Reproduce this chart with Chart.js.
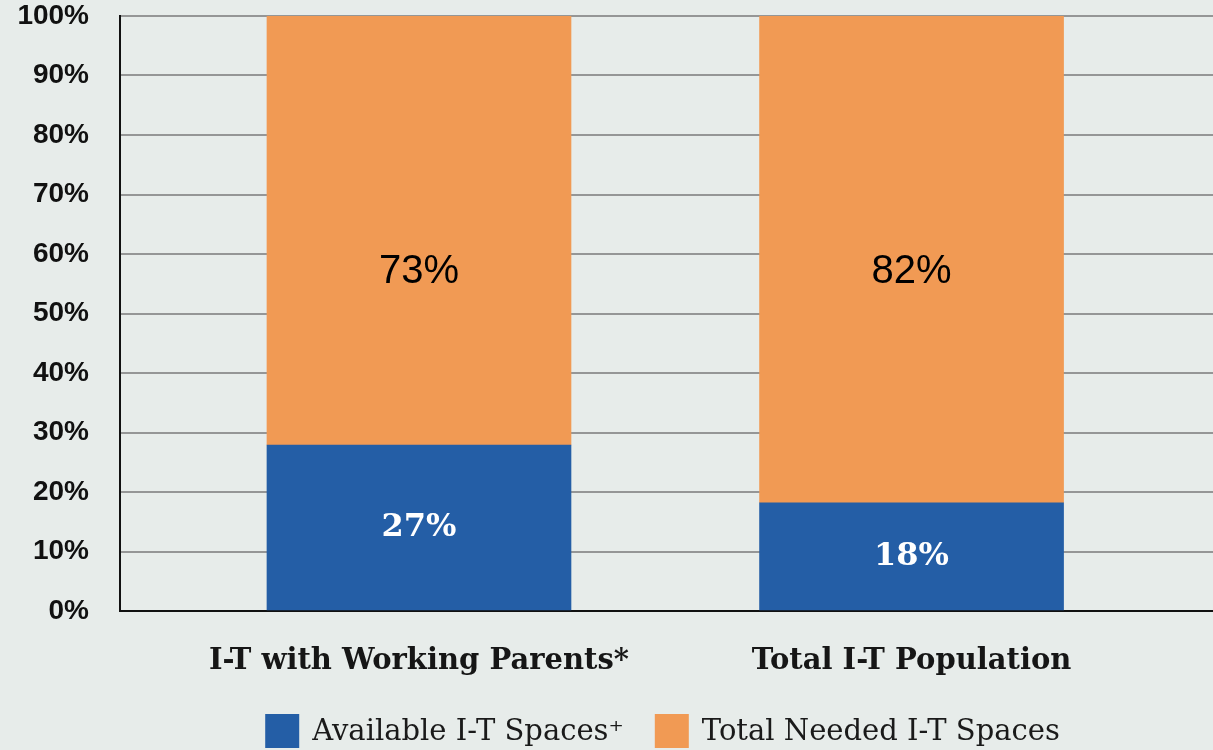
<!DOCTYPE html>
<html>
<head>
<meta charset="utf-8">
<script src="https://cdn.jsdelivr.net/npm/chart.js@4"></script>
<style>
  html, body { margin: 0; padding: 0; background: #e7ecea; }
  #wrap { width: 1213px; height: 750px; }
</style>
</head>
<body>
<div id="wrap"><canvas id="chart" width="1213" height="750"></canvas></div>
<script>
// Data
const categories = ['I-T with Working Parents*', 'Total I-T Population'];
const seriesNames = ['Available I-T Spaces\u207A', 'Total Needed I-T Spaces'];
const available = [27.9, 18.2];
const needed = [72.1, 81.8];
const availableText = ['27%', '18%'];
const neededText = ['73%', '82%'];
const yTicks = [0, 10, 20, 30, 40, 50, 60, 70, 80, 90, 100];

const BLUE = '#245ea6';
const ORANGE = '#f19a54';

// Background colour of the whole canvas
const bgPlugin = {
  id: 'bg',
  beforeDraw(chart) {
    const ctx = chart.ctx;
    ctx.save();
    ctx.fillStyle = '#e7ecea';
    ctx.fillRect(0, 0, chart.width, chart.height);
    ctx.restore();
  }
};

// Percent labels inside the bars
const barLabels = {
  id: 'barLabels',
  afterDatasetsDraw(chart) {
    const ctx = chart.ctx;
    const y = chart.scales.y;
    ctx.save();
    ctx.textAlign = 'center';
    ctx.textBaseline = 'middle';
    chart.getDatasetMeta(0).data.forEach((bar, i) => {
      ctx.fillStyle = '#ffffff';
      ctx.font = 'bold 32px "DejaVu Serif"';
      ctx.fillText(availableText[i], bar.x, (bar.y + bar.base) / 2);
    });
    chart.getDatasetMeta(1).data.forEach((bar, i) => {
      ctx.fillStyle = '#000000';
      ctx.font = '40px "Liberation Sans"';
      ctx.fillText(neededText[i], bar.x, y.getPixelForValue(57));
    });
    ctx.restore();
  }
};

// Legend under the axis labels, centred on the plot area
const bottomLegend = {
  id: 'bottomLegend',
  afterDraw(chart) {
    const ctx = chart.ctx;
    const area = chart.chartArea;
    const box = 34, gap = 13, spacing = 31;
    ctx.save();
    ctx.font = '29px "DejaVu Serif"';
    ctx.textBaseline = 'middle';
    ctx.textAlign = 'left';
    const items = chart.data.datasets.map(ds => ({
      text: ds.label,
      color: ds.backgroundColor,
      w: box + gap + ctx.measureText(ds.label).width
    }));
    const total = items.reduce((s, it) => s + it.w, 0) + spacing * (items.length - 1);
    let x = (area.left + area.right) / 2 - total / 2 - 4;
    const top = 714;
    items.forEach(it => {
      ctx.fillStyle = it.color;
      ctx.fillRect(x, top, box, box);
      ctx.fillStyle = '#1a1a1a';
      ctx.fillText(it.text, x + box + gap, top + 18);
      x += it.w + spacing;
    });
    ctx.restore();
  }
};

new Chart(document.getElementById('chart'), {
  type: 'bar',
  data: {
    datasets: [
      {
        label: seriesNames[0],
        data: available.map((v, i) => ({ x: i, y: v })),
        backgroundColor: BLUE,
        barThickness: 304
      },
      {
        label: seriesNames[1],
        data: needed.map((v, i) => ({ x: i, y: v })),
        backgroundColor: ORANGE,
        barThickness: 304
      }
    ]
  },
  options: {
    responsive: false,
    animation: false,
    layout: { padding: { top: 16, right: 0, bottom: 0, left: 0 } },
    scales: {
      x: {
        type: 'linear',
        stacked: true,
        offset: false,
        min: -0.607,
        max: 1.612,
        afterBuildTicks: (scale) => {
          scale.ticks = categories.map((c, i) => ({ value: i }));
        },
        afterFit: (scale) => {
          scale.height = 139;
          scale.paddingLeft = 0;
          scale.paddingRight = 0;
        },
        grid: { display: false, drawTicks: false },
        border: { color: '#111111', width: 2 },
        ticks: {
          padding: 33,
          color: '#161616',
          font: { family: '"DejaVu Serif"', size: 29, weight: 'bold' },
          callback: (v) => categories[v] || ''
        }
      },
      y: {
        stacked: true,
        min: 0,
        max: 100,
        afterBuildTicks: (scale) => {
          scale.ticks = yTicks.map(v => ({ value: v }));
        },
        afterFit: (scale) => {
          scale.width = 120;
          scale.paddingTop = 0;
          scale.paddingBottom = 0;
        },
        grid: { color: '#959696', lineWidth: 2, drawTicks: false },
        border: { color: '#111111', width: 2 },
        ticks: {
          padding: 31,
          color: '#111111',
          font: { family: '"Liberation Sans"', size: 28, weight: 'bold', lineHeight: 1 },
          callback: (v) => v + '%'
        }
      }
    },
    plugins: {
      legend: { display: false },
      tooltip: { enabled: false }
    }
  },
  plugins: [bgPlugin, barLabels, bottomLegend]
});
</script>
</body>
</html>
